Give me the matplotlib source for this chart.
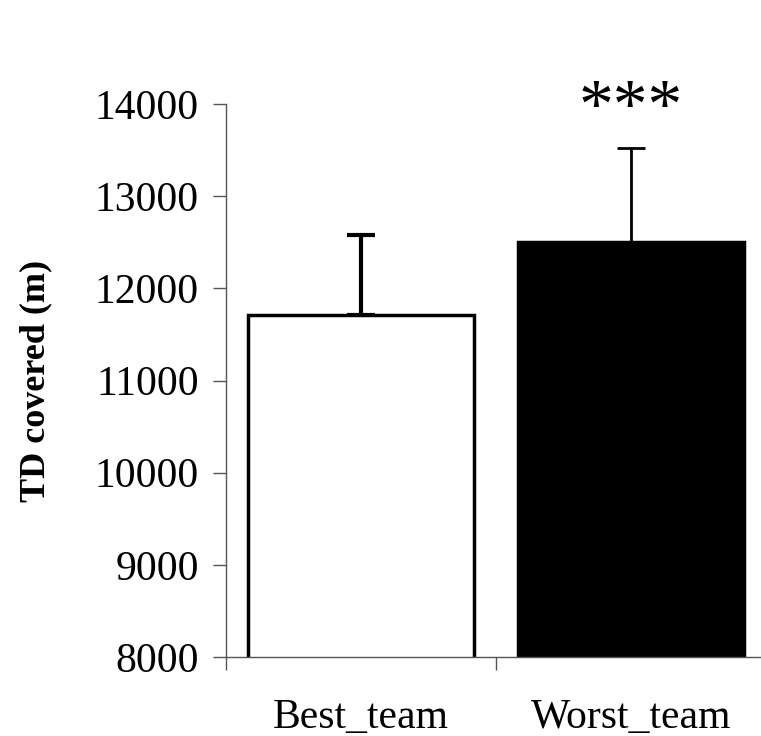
import matplotlib
matplotlib.use("Agg")
import matplotlib.pyplot as plt
import numpy as np

categories = ["Best_team", "Worst_team"]
means = [11710, 12500]
sds = [865, 1025]
colors = ["white", "black"]
y_ticks = [8000, 9000, 10000, 11000, 12000, 13000, 14000]
signif = "***"

plt.rcParams['font.family'] = ['Liberation Serif', 'DejaVu Serif']

fig = plt.figure(figsize=(7.61, 7.36), dpi=100)
ax = fig.add_axes([226/761, (736-657)/736, 540/761, 553/736])

x = np.arange(len(categories)) + 0.5
bars = ax.bar(x, means, width=0.84, color=colors, edgecolor="black", linewidth=2.5, zorder=2)
ew = [3.0, 2.0]
for xi, m, s, w in zip(x, means, sds, ew):
    ax.errorbar([xi], [m], yerr=[[0], [s]], fmt="none", ecolor="black",
                elinewidth=w, capsize=10, capthick=w, zorder=1)

ax.set_ylim(8000, 14000)
ax.set_xlim(0, 2)
ax.set_yticks(y_ticks)
ax.set_yticklabels([str(t) for t in y_ticks], fontsize=30)
ax.tick_params(axis="y", direction="out", length=9.5, width=1, color="#555555", pad=10)

ax.set_xticks([0, 1, 2])
ax.set_xticklabels([])
ax.tick_params(axis="x", which="major", direction="out", length=9.5, width=1, color="#555555")
ax.set_xticks(x, minor=True)
ax.set_xticklabels(categories, minor=True, fontsize=30)
ax.tick_params(axis="x", which="minor", length=0, pad=30)

for sp in ["top", "right"]:
    ax.spines[sp].set_visible(False)
for sp in ["left", "bottom"]:
    ax.spines[sp].set_color("#555555")
    ax.spines[sp].set_linewidth(1)

ax.set_ylabel("TD covered (m)", fontsize=26, fontweight="bold")
ax.yaxis.set_label_coords(-0.322, 0.5)

ax.text(x[1], 13930, signif, ha="center", va="center", fontsize=50)

fig.savefig("out.png", dpi=100)
